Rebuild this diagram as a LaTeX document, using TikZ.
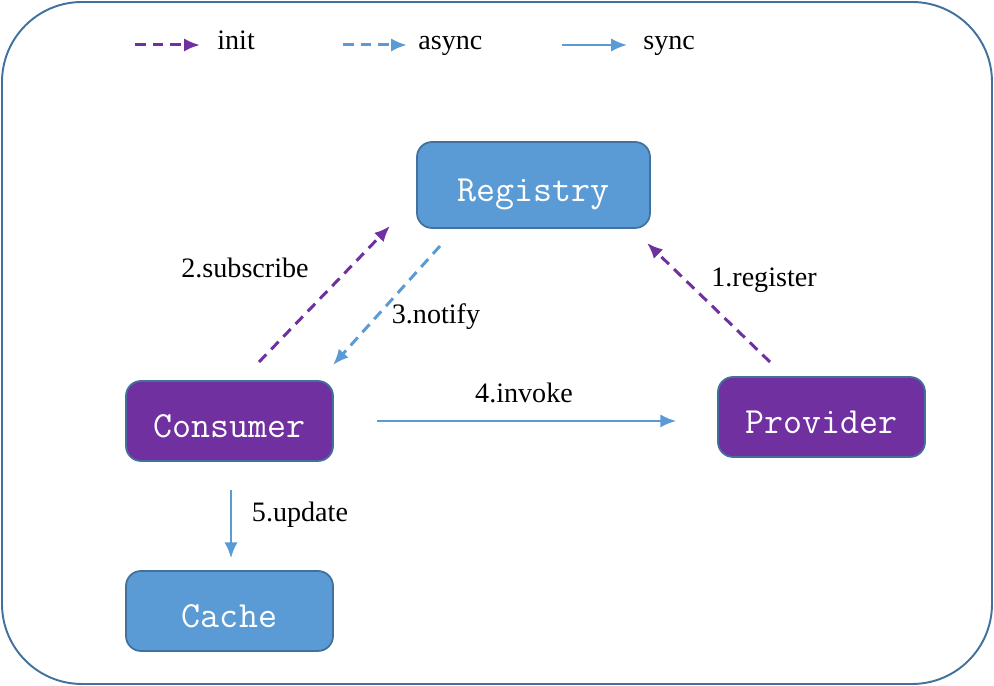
\documentclass[tikz,border=0pt]{standalone}
\usepackage{fontspec}
\setmainfont{Liberation Serif}
\usepackage{tikz}
\usetikzlibrary{calc,positioning,arrows.meta}

\definecolor{regblue}{HTML}{5B9BD5}
\definecolor{regpurple}{HTML}{7030A0}
\definecolor{edgeblue}{HTML}{41719C}

\begin{document}
\begin{tikzpicture}[
    box/.style={draw=edgeblue,line width=1pt,rounded corners=0.3cm,text=white,minimum height=1.6cm,minimum width=4.14cm,text height=19pt,text depth=0pt,font=\ttfamily\fontsize{21}{21}\selectfont},
    bluebox/.style={box,fill=regblue},
    purplebox/.style={box,fill=regpurple},
    lbl/.style={font=\fontsize{16}{16}\selectfont},
    key/.style={lbl,anchor=base west,inner sep=0pt},
    tip/.style={-{Latex[length=9pt,width=7.5pt]}},
    init/.style={tip,regpurple,line width=1.7pt,dash pattern=on 6pt off 4pt},
    async/.style={tip,regblue,line width=1.7pt,dash pattern=on 6pt off 4pt},
    sync/.style={tip,regblue,line width=1.2pt}]
    \useasboundingbox (0,0) rectangle (19.88,13.72);
    \draw[edgeblue,line width=1.1pt,rounded corners=1.6cm] (0.04,0.04) rectangle (19.84,13.68);

    % legend
    \coordinate (li0) at (2.7,12.82);
    \coordinate (li1) at (4.0,12.82);
    \coordinate (la0) at (6.86,12.82);
    \coordinate (la1) at (8.14,12.82);
    \coordinate (ls0) at (11.24,12.82);
    \coordinate (ls1) at (12.54,12.82);
    \draw[init] (li0) -- (li1);
    \draw[async] (la0) -- (la1);
    \draw[sync] (ls0) -- (ls1);
    \node[key] (tinit) at (4.34,12.72) {init};
    \node[key] (tasync) at (8.36,12.72) {async};
    \node[key] (tsync) at (12.86,12.72) {sync};

    \node[bluebox,minimum width=4.66cm,minimum height=1.72cm] (reg) at (10.67,10.02) {Registry};
    \node[purplebox] (cons) at (4.59,5.30) {Consumer};
    \node[purplebox] (prov) at (16.43,5.38) {Provider};
    \node[bluebox] (cache) at (4.59,1.50) {Cache};

    \coordinate (sub0) at (5.18,6.48);
    \coordinate (sub1) at (7.80,9.20);
    \coordinate (not0) at (8.80,8.80);
    \coordinate (not1) at (6.66,6.42);
    \coordinate (regi0) at (15.40,6.48);
    \coordinate (regi1) at (12.94,8.86);

    \draw[init] (regi0) -- (regi1);
    \draw[init] (sub0) -- (sub1);
    \draw[async] (not0) -- (not1);
    \draw[sync,shorten <=0.86cm,shorten >=0.82cm] (cons.east) -- (cons.east -| prov.west);
    \draw[sync,shorten <=0.56cm,shorten >=0.24cm] ([xshift=0.03cm]cons.south) -- ([xshift=0.03cm]cache.north);

    \node[lbl] (l1) at (15.28,8.12) {1.register};
    \node[lbl] (l2) at (4.90,8.36) {2.subscribe};
    \node[lbl] (l3) at (8.72,7.38) {3.notify};
    \node[lbl] (l4) at (10.48,5.86) {4.invoke};
    \node[lbl] (l5) at (6.00,3.42) {5.update};
  \end{tikzpicture}
\end{document}
